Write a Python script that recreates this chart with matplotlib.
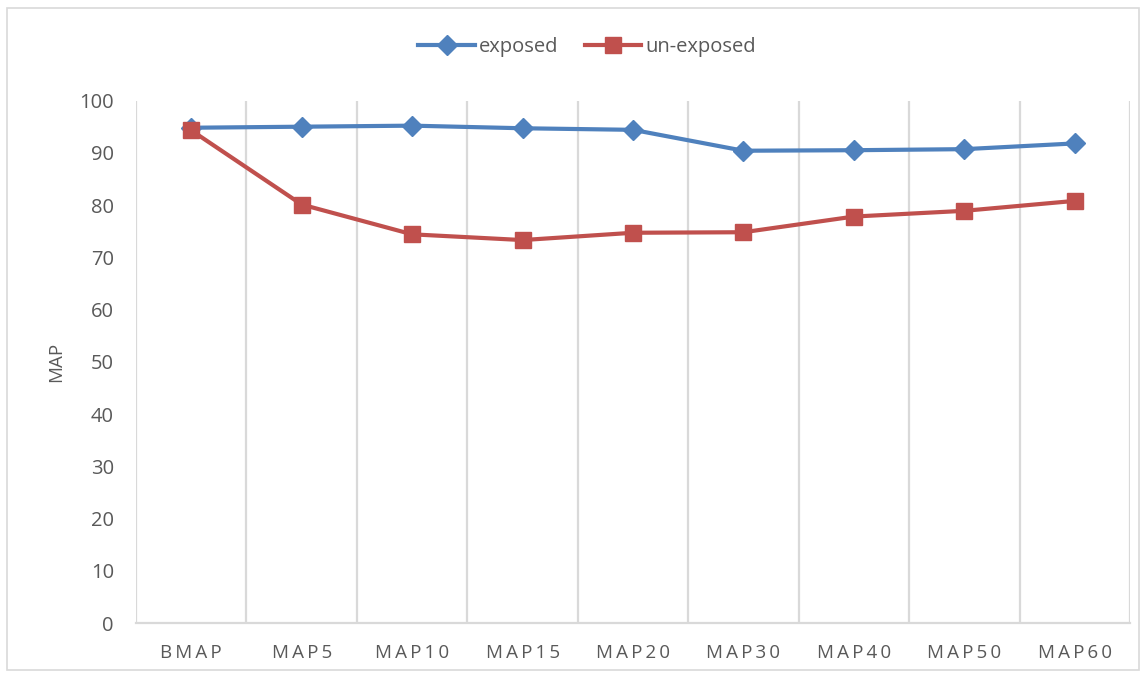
import numpy as np
import matplotlib
matplotlib.use("Agg")
import matplotlib.pyplot as plt
import matplotlib.patches as patches

plt.rcParams['font.family'] = ['Open Sans', 'DejaVu Sans']

categories = ['BMAP', 'MAP5', 'MAP10', 'MAP15', 'MAP20', 'MAP30', 'MAP40', 'MAP50', 'MAP60']
exposed = [94.8, 95.0, 95.2, 94.7, 94.4, 90.4, 90.5, 90.7, 91.8]
un_exposed = [94.3, 80.1, 74.4, 73.3, 74.7, 74.8, 77.8, 78.9, 80.8]

txt_col = '#595959'
grid_col = '#D9D9D9'

fig = plt.figure(figsize=(11.45, 6.75), dpi=100)
ax = fig.add_axes([0.1188, 0.077, 0.8681, 0.774])

x = np.arange(len(categories))
ax.plot(x, exposed, color='#4F81BD', lw=3, marker='D', markersize=10.5,
        label='exposed', zorder=3)
ax.plot(x, un_exposed, color='#C0504D', lw=3, marker='s', markersize=11.5,
        label='un-exposed', zorder=4)

ax.set_xlim(-0.5, len(categories) - 0.5)
ax.set_ylim(0, 100)
ax.set_yticks(np.arange(0, 101, 10))

# vertical gridlines between categories
for b in np.arange(-0.5, len(categories), 1.0):
    ax.axvline(b, color=grid_col, lw=1.6, zorder=1)

for s in ['top', 'right', 'left']:
    ax.spines[s].set_visible(False)
ax.spines['bottom'].set_color(grid_col)
ax.spines['bottom'].set_linewidth(1.6)

ax.set_xticks(x)
ax.set_xticklabels(['\u2009'.join(c) for c in categories])
ax.tick_params(axis='x', length=0, pad=15, labelsize=13.5, labelcolor=txt_col)
ax.tick_params(axis='y', length=0, pad=16, labelsize=14.5, labelcolor=txt_col)

ax.set_ylabel('MAP', fontsize=13.5, color=txt_col, labelpad=10)

leg = fig.legend(loc='center', bbox_to_anchor=(0.5127, 0.930), ncol=2, frameon=False,
                 fontsize=14.5, handlelength=2.8, handletextpad=0.2, columnspacing=1.3)
for t in leg.get_texts():
    t.set_color(txt_col)

border = patches.Rectangle((0.006, 0.007), 0.989, 0.981, transform=fig.transFigure,
                           facecolor='none', edgecolor=grid_col, lw=1.2)
fig.patches.append(border)

fig.savefig('out.png', dpi=100)
